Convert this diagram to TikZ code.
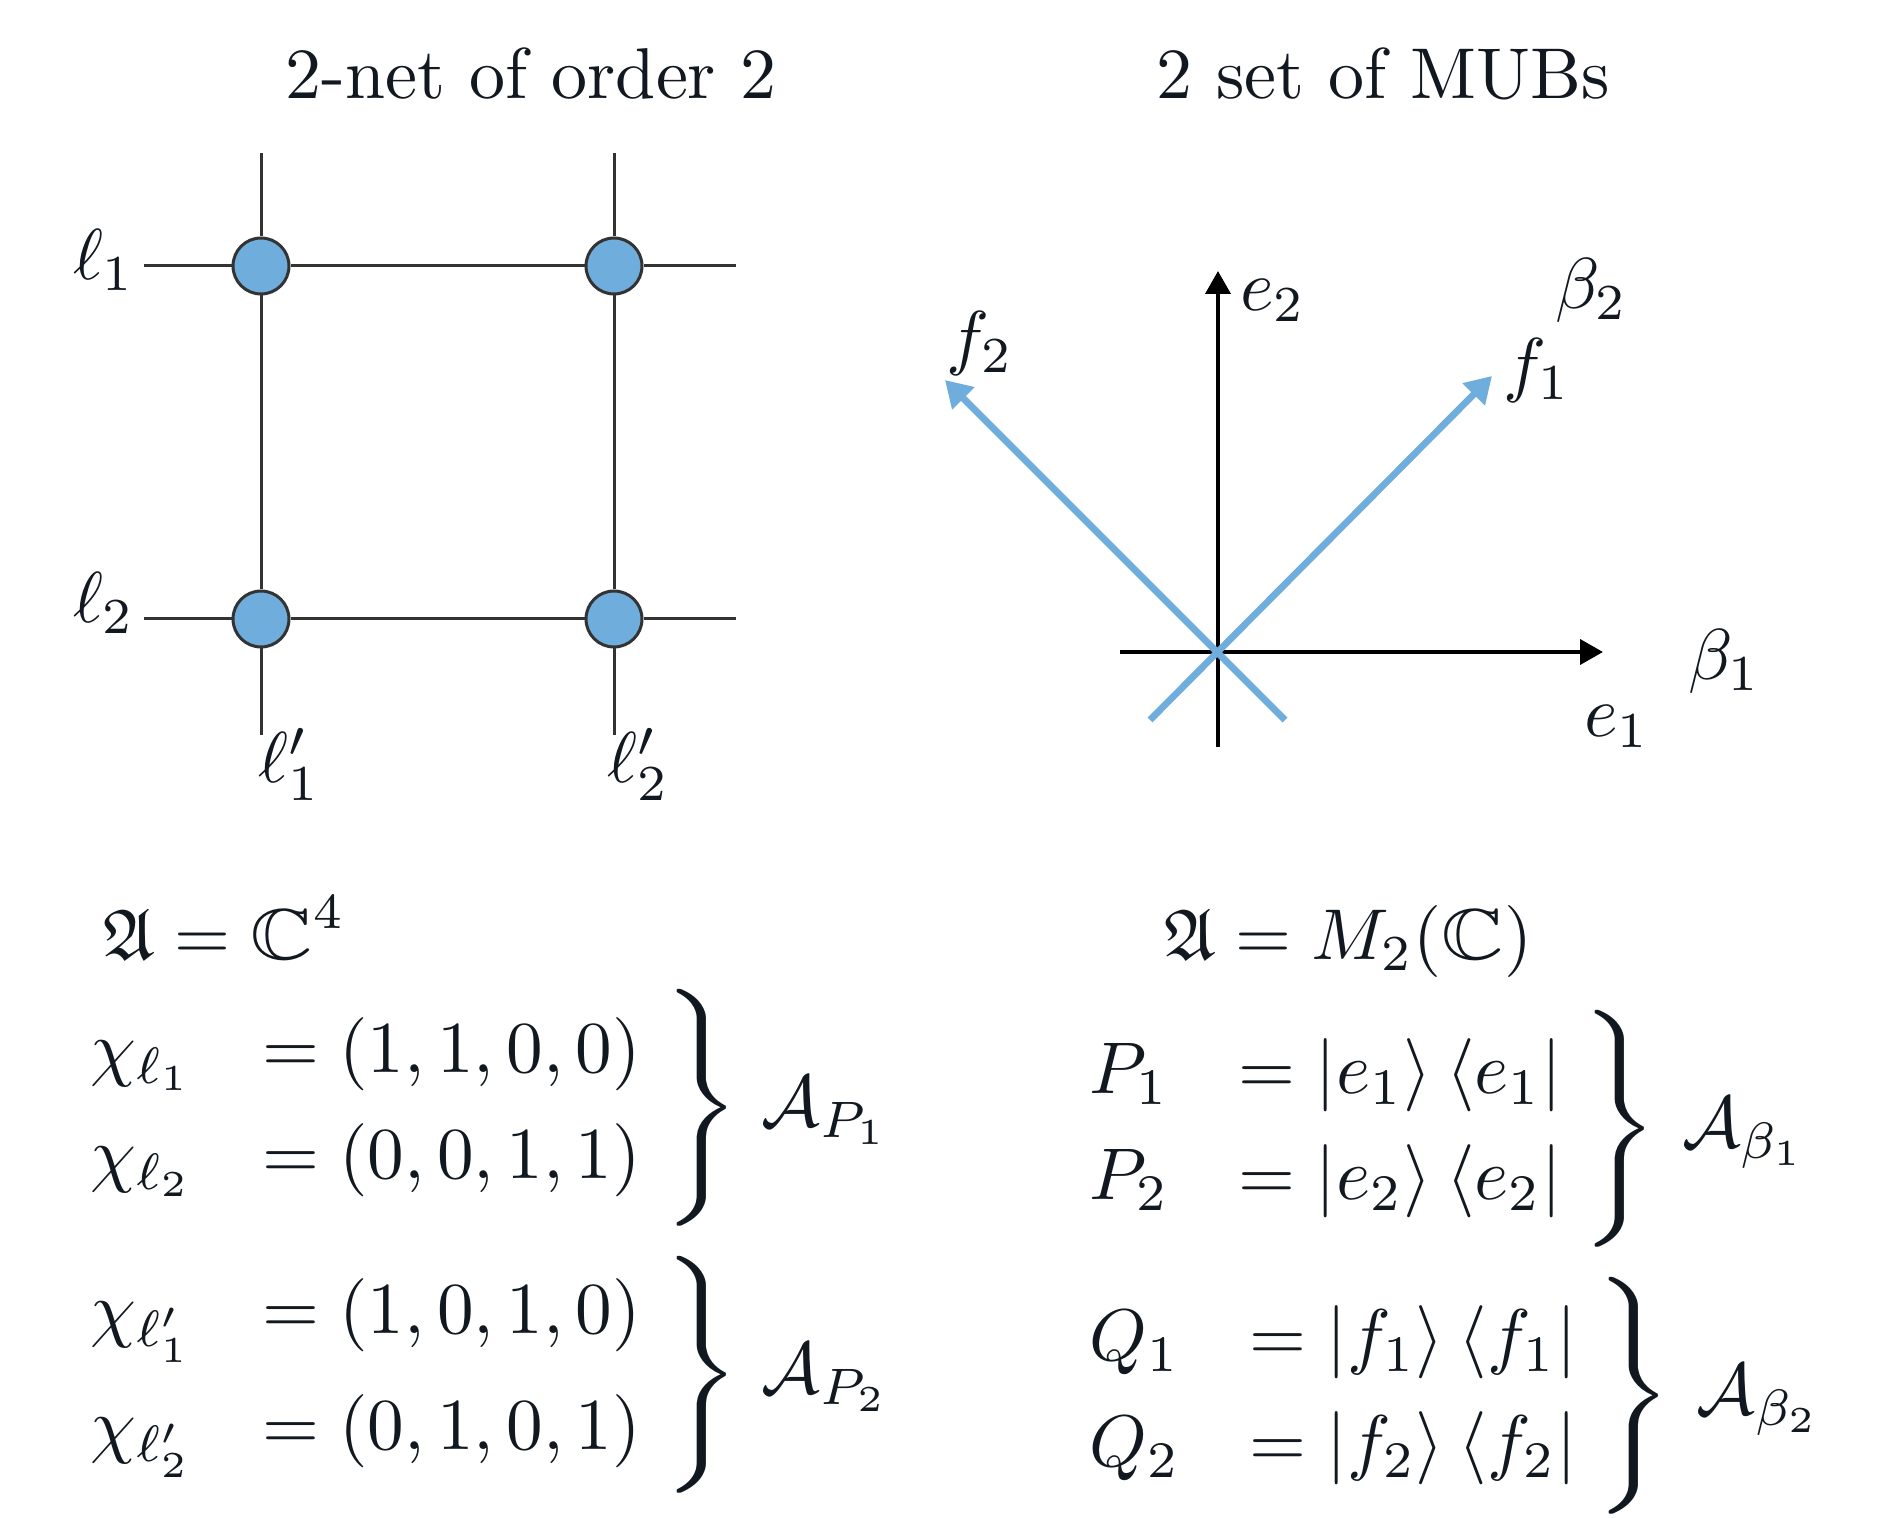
\documentclass[tikz,border=0pt]{standalone}
\usepackage{graphicx}
\usepackage{amsmath,amssymb}
\usetikzlibrary{arrows.meta}
\setlength{\jot}{2.48pt}
\definecolor{mublue}{HTML}{6FAEDC}
\definecolor{gridgray}{HTML}{333333}
\definecolor{ink}{HTML}{121820}
\newcommand{\mybrace}{\vcenter{\hbox{\scalebox{1.3}[1.079]{$\left.\vcenter{\hbox{\rule{0pt}{31pt}}}\right\}$}}}}
\newcommand{\mysx}[1]{\scalebox{1.8}{#1}}
\newcommand{\myeq}[1]{\scalebox{1.83}{#1}}
\newcommand{\myC}{\mathord{\scalebox{1.2}[1]{$\mathbb{C}$}}}
\tikzset{
  txt/.style={font=\fontsize{10}{12}\selectfont, text=ink, inner sep=0pt, outer sep=0pt},
  lbl/.style={txt, anchor=base west},
  dot/.style={circle, draw=gridgray, fill=mublue, line width=0.75pt, minimum size=14pt, inner sep=0pt},
  gridline/.style={draw=gridgray, line width=0.75pt},
  axisarrow/.style={draw=black, line width=1pt, -{Triangle[length=5.75pt,width=6.25pt]}},
  vecarrow/.style={draw=mublue, line width=1.7pt, -{Triangle[length=6.5pt,width=7.5pt]}},
}
\begin{document}
\begin{tikzpicture}[x=0.25pt,y=-0.25pt]
\useasboundingbox (0,0) rectangle (1888,1518);
% titles
\node[txt, anchor=base] (t1) at (531,99) {\mysx{2-net of order 2}};
\node[txt, anchor=base] (t2) at (1383,99) {\mysx{2 set of MUBs}};
% grid
\coordinate (v1t) at (261,153); \coordinate (v1b) at (261,735);
\coordinate (v2t) at (614,153); \coordinate (v2b) at (614,735);
\coordinate (h1l) at (144,266); \coordinate (h1r) at (736,266);
\coordinate (h2l) at (144,619); \coordinate (h2r) at (736,619);
\node[dot] (d11) at (261,266) {};
\node[dot] (d21) at (614,266) {};
\node[dot] (d12) at (261,619) {};
\node[dot] (d22) at (614,619) {};
\draw[gridline] (v1t) -- (d11) -- (d12) -- (v1b);
\draw[gridline] (v2t) -- (d21) -- (d22) -- (v2b);
\draw[gridline] (h1l) -- (d11) -- (d21) -- (h1r);
\draw[gridline] (h2l) -- (d12) -- (d22) -- (h2r);
\node[lbl] (l1) at (73,280) {\mysx{$\ell_1$}};
\node[lbl] (l2) at (73,623) {\mysx{$\ell_2$}};
\node[lbl] (lp1) at (258,783) {\mysx{$\ell'_1$}};
\node[lbl] (lp2) at (607,783) {\mysx{$\ell'_2$}};
% MUB axes
\coordinate (O) at (1218,652);
\coordinate (xl) at (1120,652); \coordinate (xr) at (1603,652);
\coordinate (yb) at (1218,747); \coordinate (yt) at (1218,271);
\draw[axisarrow] (xl) -- (xr);
\draw[axisarrow] (yb) -- (yt);
\coordinate (f1t) at (1150,720); \coordinate (f1h) at (1492,376);
\coordinate (f2t) at (1285,720); \coordinate (f2h) at (945,380);
\draw[vecarrow] (f1t) -- (f1h);
\draw[vecarrow] (f2t) -- (f2h);
\node[lbl] (le2) at (1240,311) {\mysx{$e_2$}};
\node[lbl] (lb2) at (1555,309) {\mysx{$\beta_2$}};
\node[lbl] (lf2) at (946,362) {\mysx{$f_2$}};
\node[lbl] (lf1) at (1503,389) {\mysx{$f_1$}};
\node[lbl] (lb1) at (1688,680) {\mysx{$\beta_1$}};
\node[lbl] (le1) at (1584,737) {\mysx{$e_1$}};
% algebras
\node[lbl] (A1) at (103,960) {\mysx{$\mathfrak{A}=\myC^4$}};
\node[lbl] (A2) at (1164,960) {\mysx{$\mathfrak{A}=M_2(\myC)$}};
\node[txt, anchor=west] (g1) at (90.5,1108) {\myeq{$\begin{aligned}\chi_{\ell_1}&\hspace{6.7pt}=(1,1,0,0)\\ \chi_{\ell_2}&\hspace{6.7pt}=(0,0,1,1)\end{aligned}\hspace{1.5pt}\mybrace\hspace{3pt}\mathcal{A}_{P_1}$}};
\node[txt, anchor=west] (g2) at (90.5,1375) {\myeq{$\begin{aligned}\chi_{\ell'_1}&\hspace{6.7pt}=(1,0,1,0)\\ \chi_{\ell'_2}&\hspace{6.7pt}=(0,1,0,1)\end{aligned}\hspace{1.5pt}\mybrace\hspace{3pt}\mathcal{A}_{P_2}$}};
\node[txt, anchor=west] (g3) at (1089.5,1129) {\myeq{$\begin{aligned}P_1&\hspace{6.7pt}=\lvert e_1\rangle\hspace{2pt}\langle e_1\rvert\\ P_2&\hspace{6.7pt}=\lvert e_2\rangle\hspace{2pt}\langle e_2\rvert\end{aligned}\hspace{1.1pt}\mybrace\hspace{3.3pt}\mathcal{A}_{\beta_1}$}};
\node[txt, anchor=west] (g4) at (1089.5,1396) {\myeq{$\begin{aligned}Q_1&\hspace{6.7pt}=\lvert f_1\rangle\hspace{2pt}\langle f_1\rvert\\ Q_2&\hspace{6.7pt}=\lvert f_2\rangle\hspace{2pt}\langle f_2\rvert\end{aligned}\hspace{1.1pt}\mybrace\hspace{3.3pt}\mathcal{A}_{\beta_2}$}};
\end{tikzpicture}
\end{document}
